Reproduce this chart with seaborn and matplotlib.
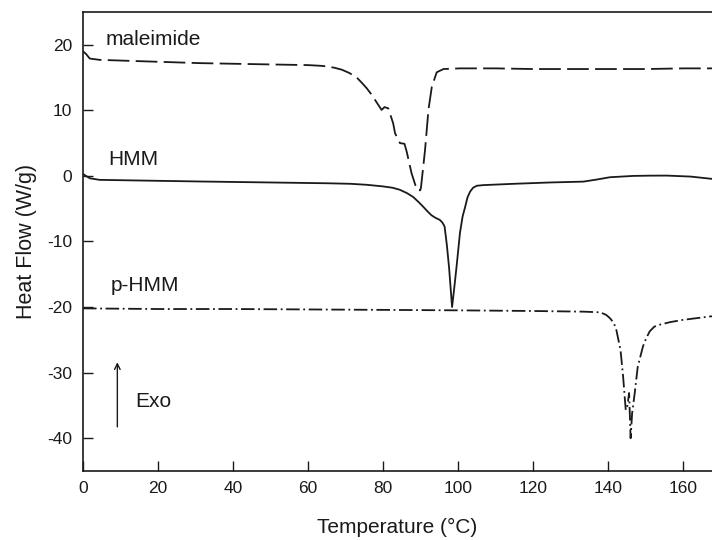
import matplotlib
matplotlib.use("Agg")
import matplotlib.pyplot as plt
import pandas as pd
import seaborn as sns

# DSC traces
temp_mal = [0, 0.8, 1.8, 4.4, 15, 31.2, 50, 60, 63.2, 65, 67, 69, 71, 73, 74.5, 75.6, 77.0,
            79.6, 80.4, 81.4, 82.7, 83.2, 84.5, 85.7, 86.3, 87.6, 89.0, 89.9, 90.1, 91.2,
            92.1, 93.0, 94.3, 96.1, 100.5, 110, 120, 130, 140, 150, 160, 168]
hf_mal = [19.0, 18.6, 17.9, 17.7, 17.5, 17.2, 17.0, 16.9, 16.8, 16.7, 16.5, 16.2, 15.7,
          15.0, 14.1, 13.4, 12.35, 10.06, 10.5, 10.3, 8.0, 6.5, 5.0, 4.9, 3.7, 0.4, -2.1,
          -2.2, -1.8, 4.0, 10.1, 13.6, 15.8, 16.3, 16.4, 16.4, 16.3, 16.3, 16.3, 16.3,
          16.4, 16.4]

temp_hmm = [0, 0.8, 1.8, 4.4, 15, 31.2, 50, 65, 71.2, 75.6, 80.0, 82.5, 84.4, 86.3, 88.0,
            89.5, 90.7, 92.0, 92.9, 94.0, 95.1, 95.8, 96.4, 97.0, 97.6, 98.0, 98.4, 98.9,
            99.6, 100.5, 101.2, 101.9, 102.5, 103.2, 104.0, 105.0, 106.8, 115, 124.5, 133.4,
            137, 140.5, 146.7, 151, 155.6, 162, 167.7]
hf_hmm = [0.3, 0.0, -0.36, -0.6, -0.7, -0.85, -1.0, -1.12, -1.2, -1.35, -1.6, -1.8, -2.1,
          -2.6, -3.2, -4.0, -4.7, -5.5, -6.0, -6.4, -6.7, -7.1, -7.7, -10.5, -14.0, -17.0,
          -20.0, -17.5, -13.8, -8.7, -6.2, -4.7, -3.3, -2.4, -1.8, -1.5, -1.4, -1.2, -1.0,
          -0.87, -0.55, -0.2, 0.0, 0.04, 0.05, -0.1, -0.45]

temp_phmm = [0, 20, 40, 71.2, 100, 120, 133.4, 137.9, 139.5, 140.5, 141.5, 142.2, 143.3,
             144.0, 144.7, 145.1, 145.6, 146.0, 146.4, 147.1, 147.9, 149.3, 150.2, 151.1,
             152.3, 153.7, 156.5, 160, 167.7]
hf_phmm = [-20.2, -20.3, -20.3, -20.4, -20.5, -20.6, -20.7, -20.8, -21.2, -21.7, -22.4,
           -23.5, -26.5, -30.6, -35.7, -35.2, -33.1, -40.0, -36.2, -33.1, -29.1, -26.0,
           -24.7, -23.7, -23.0, -22.7, -22.3, -21.95, -21.4]

curve_labels = ["maleimide", "HMM", "p-HMM"]
x_ticks = [0, 20, 40, 60, 80, 100, 120, 140, 160]
y_ticks = [-40, -30, -20, -10, 0, 10, 20]

sns.set_style("ticks")
plt.rcParams["font.family"] = ["Liberation Sans", "DejaVu Sans"]
plt.rcParams["axes.unicode_minus"] = False

fig = plt.figure(figsize=(7.12, 5.4), dpi=100)
ax = fig.add_axes([0.1166, 0.1278, 0.8834, 0.85])

df_mal = pd.DataFrame({"T": temp_mal, "HF": hf_mal})
df_hmm = pd.DataFrame({"T": temp_hmm, "HF": hf_hmm})
df_phmm = pd.DataFrame({"T": temp_phmm, "HF": hf_phmm})

ink = "#1a1a1a"
sns.lineplot(data=df_mal, x="T", y="HF", color=ink, lw=1.3,
             linestyle=(0, (12, 3.5)), sort=False, ax=ax)
sns.lineplot(data=df_hmm, x="T", y="HF", color=ink, lw=1.3, sort=False, ax=ax)
sns.lineplot(data=df_phmm, x="T", y="HF", color=ink, lw=1.3,
             linestyle=(0, (7.5, 2, 1, 2)), sort=False, ax=ax)

# curve labels
ax.text(5.9, 19.9, curve_labels[0], fontsize=15, ha="left", va="baseline", color=ink)
ax.text(6.7, 1.7, curve_labels[1], fontsize=15, ha="left", va="baseline", color=ink)
ax.text(7.5, -17.5, curve_labels[2], fontsize=15, ha="left", va="baseline", color=ink)
ax.text(13.9, -35.2, "Exo", fontsize=15, ha="left", va="baseline", color=ink)
ax.annotate("", xy=(9.15, -28.0), xytext=(9.15, -38.7),
            arrowprops=dict(arrowstyle="->", lw=1.0, color=ink))

ax.set_xlim(0, 167.7)
ax.set_ylim(-45, 25)
ax.set_xticks(x_ticks)
ax.set_yticks(y_ticks)
ax.tick_params(direction="in", length=7, width=1.0, labelsize=12.5, colors=ink)
ax.tick_params(axis="y", pad=8)
ax.tick_params(axis="x", pad=7)
ax.set_xlabel("Temperature (°C)", fontsize=15, labelpad=16, color=ink)
ax.set_ylabel("Heat Flow (W/g)", fontsize=15.5, labelpad=7, color=ink)
ax.spines["right"].set_visible(False)
for s in ["left", "bottom", "top"]:
    ax.spines[s].set_linewidth(1.2)
    ax.spines[s].set_color(ink)

fig.savefig("out.png", dpi=100)
